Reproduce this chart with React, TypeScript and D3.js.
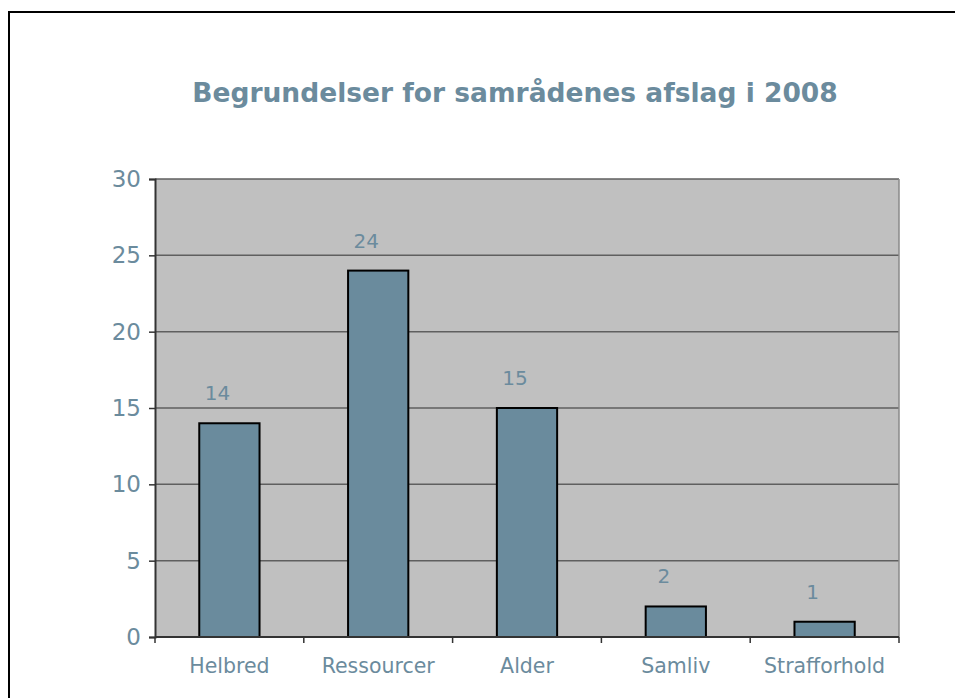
import { useEffect, useRef } from "react";
import * as d3 from "d3";

const categories = ["Helbred", "Ressourcer", "Alder", "Samliv", "Strafforhold"];
const values = [14, 24, 15, 2, 1];
const yTicks = [0, 5, 10, 15, 20, 25, 30];
const title = "Begrundelser for samrådenes afslag i 2008";

const W = 955;
const H = 698;
const textColor = "#6b8b9d";
const font = "'DejaVu Sans', Verdana, sans-serif";

const App = () => {
  const svgRef = useRef<SVGSVGElement | null>(null);

  useEffect(() => {
    const svgEl = svgRef.current;
    if (!svgEl) return;
    const svg = d3.select(svgEl);
    svg.selectAll("*").remove();

    const left = 155;
    const right = 899;
    const top = 179;
    const bottom = 637;

    const x = d3.scaleBand<string>().domain(categories).range([left, right]).padding(0);
    const y = d3.scaleLinear().domain([0, 30]).range([bottom, top]);
    const barW = x.bandwidth() * 0.405;

    // outer frame
    svg
      .append("rect")
      .attr("x", 9)
      .attr("y", 12)
      .attr("width", W + 20)
      .attr("height", H + 20)
      .attr("fill", "#fff")
      .attr("stroke", "#000")
      .attr("stroke-width", 2);

    svg
      .append("text")
      .attr("x", 515)
      .attr("y", 102)
      .attr("text-anchor", "middle")
      .attr("font-family", font)
      .attr("font-weight", "bold")
      .attr("font-size", 26.5)
      .attr("fill", textColor)
      .text(title);

    svg
      .append("rect")
      .attr("x", left)
      .attr("y", top)
      .attr("width", right - left)
      .attr("height", bottom - top)
      .attr("fill", "#c0c0c0");

    // gridlines
    svg
      .append("g")
      .selectAll("line")
      .data(yTicks.filter((t) => t > 0))
      .join("line")
      .attr("x1", left)
      .attr("x2", right)
      .attr("y1", (d) => y(d))
      .attr("y2", (d) => y(d))
      .attr("stroke", "#5f5f5f")
      .attr("stroke-width", 1.5);

    // right edge of plot
    svg
      .append("line")
      .attr("x1", right)
      .attr("x2", right)
      .attr("y1", top)
      .attr("y2", bottom)
      .attr("stroke", "#8a8a8a")
      .attr("stroke-width", 1.5);

    // bars
    svg
      .append("g")
      .selectAll("rect")
      .data(values)
      .join("rect")
      .attr("x", (_, i) => x(categories[i])! + x.bandwidth() / 2 - barW / 2)
      .attr("y", (d) => y(d))
      .attr("width", barW)
      .attr("height", (d) => bottom - y(d))
      .attr("fill", "#6a8b9d")
      .attr("stroke", "#000")
      .attr("stroke-width", 2);

    // value labels
    svg
      .append("g")
      .selectAll("text")
      .data(values)
      .join("text")
      .attr("x", (_, i) => x(categories[i])! + x.bandwidth() / 2 - 12)
      .attr("y", (d) => y(d) - 23)
      .attr("text-anchor", "middle")
      .attr("font-family", font)
      .attr("font-size", 20)
      .attr("fill", textColor)
      .text((d) => d);

    // y axis
    const yAxis = svg
      .append("g")
      .attr("transform", `translate(${left},0)`)
      .call(d3.axisLeft(y).tickValues(yTicks).tickSize(6).tickPadding(8));
    yAxis.select(".domain").attr("stroke", "#333").attr("stroke-width", 2);
    yAxis.selectAll(".tick line").attr("stroke", "#333").attr("stroke-width", 1.5);
    yAxis
      .selectAll(".tick text")
      .attr("font-family", font)
      .attr("font-size", 23)
      .attr("fill", textColor);

    // x axis line and ticks at category boundaries
    svg
      .append("line")
      .attr("x1", left)
      .attr("x2", right)
      .attr("y1", bottom)
      .attr("y2", bottom)
      .attr("stroke", "#333")
      .attr("stroke-width", 2);

    const boundaries = categories.map((c) => x(c)!).concat([right]);
    svg
      .append("g")
      .selectAll("line")
      .data(boundaries)
      .join("line")
      .attr("x1", (d) => d)
      .attr("x2", (d) => d)
      .attr("y1", bottom)
      .attr("y2", bottom + 6)
      .attr("stroke", "#333")
      .attr("stroke-width", 1.5);

    svg
      .append("g")
      .selectAll("text")
      .data(categories)
      .join("text")
      .attr("x", (d) => x(d)! + x.bandwidth() / 2)
      .attr("y", 673)
      .attr("text-anchor", "middle")
      .attr("font-family", font)
      .attr("font-size", 20.5)
      .attr("fill", textColor)
      .text((d) => d);
  }, []);

  return (
    <svg
      ref={svgRef}
      width={W}
      height={H}
      style={{ position: "absolute", left: 0, top: 0, display: "block" }}
    />
  );
};

export default App;
